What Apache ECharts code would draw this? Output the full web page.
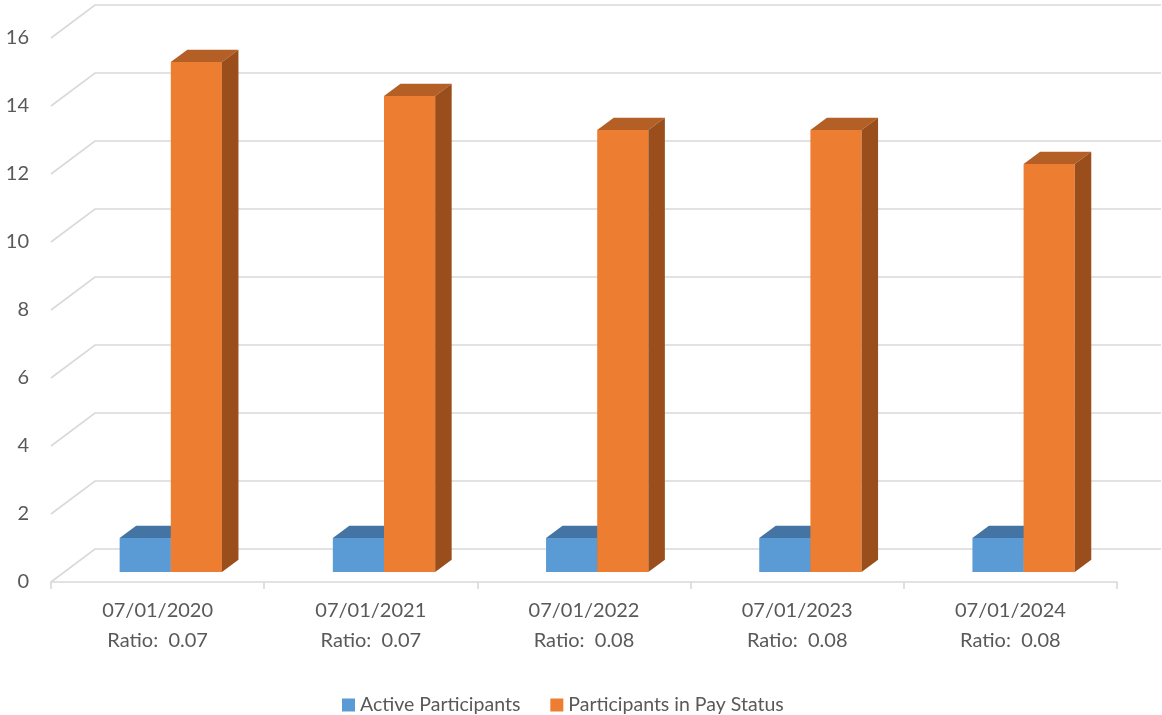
<!DOCTYPE html>
<html>
<head>
<meta charset="utf-8">
<script src="https://cdn.jsdelivr.net/npm/echarts@6/dist/echarts.min.js"></script>
<style>
  html, body { margin: 0; padding: 0; background: #ffffff; }
  #chart { width: 1162px; height: 715px; }
</style>
</head>
<body>
<div id="chart"></div>
<script>
// Participant counts per valuation date
const categories = ['07/01/2020', '07/01/2021', '07/01/2022', '07/01/2023', '07/01/2024'];
const ratios = ['0.07', '0.07', '0.08', '0.08', '0.08'];
const activeParticipants = [1, 1, 1, 1, 1];
const payStatusParticipants = [15, 14, 13, 13, 12];
const yTickValues = [0, 2, 4, 6, 8, 10, 12, 14, 16];
const seriesNames = ['Active Participants', 'Participants in Pay Status'];

// Oblique 3D projection: floor depth offset and bar placement within it
const DEPTH_X = 44, DEPTH_Y = -33;
const BAR_FRONT = 0.3, BAR_BACK = 0.675;
const BAR_FRACTION = 0.24;

const palette = [
  { front: '#5b9bd5', top: '#4474a3', side: '#3c6791' },
  { front: '#ed7d31', top: '#b45f25', side: '#994e1c' }
];
const FONT = 'Lato, "Open Sans", sans-serif';
const TEXT = '#595959';
const GRID_COLOR = '#d9d9d9';

function barRenderer(seriesIdx) {
  return function (params, api) {
    const cat = api.value(0), val = api.value(1);
    const base = api.coord([cat, 0]);
    const top = api.coord([cat, val]);
    const bw = api.size([1, 0])[0] * BAR_FRACTION;
    const ox = BAR_FRONT * DEPTH_X, oy = BAR_FRONT * DEPTH_Y;
    const dx = (BAR_BACK - BAR_FRONT) * DEPTH_X, dy = (BAR_BACK - BAR_FRONT) * DEPTH_Y;
    const x0 = base[0] - bw + seriesIdx * bw + ox;
    const x1 = x0 + bw;
    const yTop = top[1] + oy, yBase = base[1] + oy;
    const c = palette[seriesIdx];
    return {
      type: 'group',
      children: [
        { type: 'rect', shape: { x: x0, y: yTop, width: bw, height: yBase - yTop }, style: { fill: c.front } },
        { type: 'polygon', shape: { points: [[x0, yTop], [x1, yTop], [x1 + dx, yTop + dy], [x0 + dx, yTop + dy]] }, style: { fill: c.top } },
        { type: 'polygon', shape: { points: [[x1, yTop], [x1 + dx, yTop + dy], [x1 + dx, yBase + dy], [x1, yBase]] }, style: { fill: c.side } }
      ]
    };
  };
}

// Back wall and side wall gridlines: front-left edge, diagonal into depth, then along the back wall
function gridRenderer(params, api) {
  const v = api.value(1);
  const p = api.coord([0, v]);
  const cs = params.coordSys;
  const left = cs.x, right = cs.x + cs.width;
  return {
    type: 'polyline',
    shape: { points: [[left, p[1]], [left + DEPTH_X, p[1] + DEPTH_Y], [right + DEPTH_X, p[1] + DEPTH_Y]] },
    style: { stroke: GRID_COLOR, lineWidth: 1.6, fill: null }
  };
}

const chart = echarts.init(document.getElementById('chart'), null, { renderer: 'canvas' });
chart.setOption({
  animation: false,
  backgroundColor: '#ffffff',
  grid: { left: 51, right: 45, top: 38, bottom: 133, containLabel: false },
  legend: {
    top: 690,
    left: 337,
    itemWidth: 13,
    itemHeight: 13,
    itemGap: 30,
    icon: 'rect',
    data: seriesNames,
    textStyle: { fontFamily: FONT, fontSize: 19.5, color: TEXT }
  },
  xAxis: {
    type: 'category',
    data: categories,
    boundaryGap: true,
    axisLine: { show: true, lineStyle: { color: GRID_COLOR, width: 1.6 } },
    axisTick: { show: true, length: 7, lineStyle: { color: GRID_COLOR, width: 1.6 } },
    axisLabel: {
      margin: 14,
      fontFamily: FONT,
      fontSize: 20,
      color: TEXT,
      lineHeight: 30,
      formatter: function (value, idx) { return value + '\nRatio:  ' + ratios[idx]; }
    },
    splitLine: { show: false }
  },
  yAxis: {
    type: 'value',
    min: 0,
    max: 16,
    interval: 2,
    axisLine: { show: false },
    axisTick: { show: false },
    splitLine: { show: false },
    axisLabel: { margin: 22, fontFamily: FONT, fontSize: 20, color: TEXT }
  },
  series: [
    {
      name: 'grid-walls',
      type: 'custom',
      silent: true,
      z: 1,
      renderItem: gridRenderer,
      data: yTickValues.map(v => [0, v])
    },
    {
      name: seriesNames[0],
      type: 'custom',
      z: 2,
      itemStyle: { color: palette[0].front },
      renderItem: barRenderer(0),
      data: activeParticipants.map((v, i) => [i, v])
    },
    {
      name: seriesNames[1],
      type: 'custom',
      z: 3,
      itemStyle: { color: palette[1].front },
      renderItem: barRenderer(1),
      data: payStatusParticipants.map((v, i) => [i, v])
    }
  ]
});
</script>
</body>
</html>
